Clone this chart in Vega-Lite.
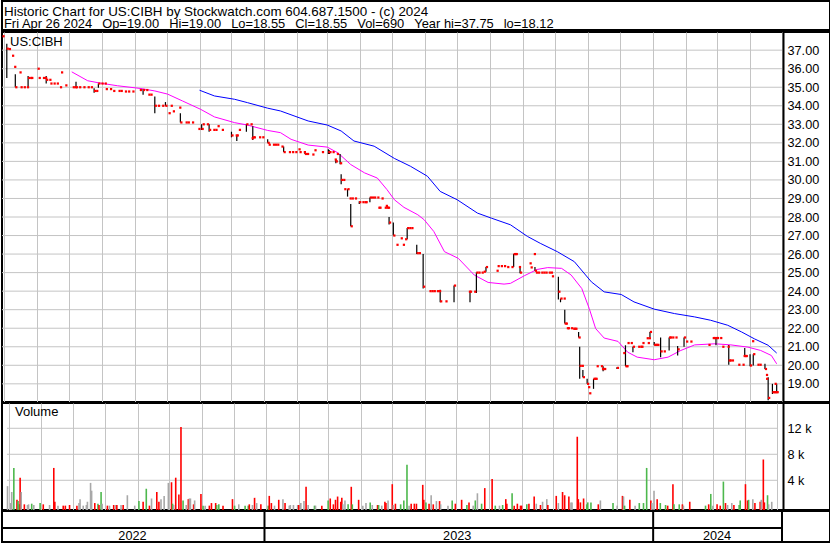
{
  "$schema": "https://vega.github.io/schema/vega-lite/v6.json",
  "padding": {"left": 0, "top": 0, "right": 0, "bottom": 0},
  "background": "white",
  "spacing": -2,
  "config": {
    "view": {"stroke": "black", "strokeWidth": 2},
    "font": "Liberation Sans",
    "text": {"font": "Liberation Sans"}
  },
  "datasets": {
    "pgrid": [{"g":19},{"g":20},{"g":21},{"g":22},{"g":23},{"g":24},{"g":25},{"g":26},{"g":27},{"g":28},{"g":29},{"g":30},{"g":31},{"g":32},{"g":33},{"g":34},{"g":35},{"g":36},{"g":37}],
    "vgrid": [{"g":4000},{"g":8000},{"g":12000}],
    "prices": [
      {"d":"2022-04-30","c":37.75},
      {"d":"2022-05-04","h":37.35,"l":35.5,"c":37.08},
      {"d":"2022-05-06","c":37.06},
      {"d":"2022-05-09","c":36.7},
      {"d":"2022-05-11","c":36.1},
      {"d":"2022-05-12","h":35.7,"l":35.0,"c":35.0},
      {"d":"2022-05-16","c":35.8},
      {"d":"2022-05-17","c":35.0},
      {"d":"2022-05-20","c":35.0},
      {"d":"2022-05-23","c":35.0},
      {"d":"2022-05-24","h":35.6,"l":35.0,"c":35.5},
      {"d":"2022-05-26","c":35.5},
      {"d":"2022-05-27","c":35.5},
      {"d":"2022-06-02","c":36.0},
      {"d":"2022-06-03","c":35.5},
      {"d":"2022-06-07","c":35.5},
      {"d":"2022-06-09","c":35.5},
      {"d":"2022-06-10","h":35.6,"l":35.2,"c":35.4},
      {"d":"2022-06-13","c":35.4},
      {"d":"2022-06-14","c":35.2},
      {"d":"2022-06-17","c":35.2},
      {"d":"2022-06-20","c":35.2},
      {"d":"2022-06-23","c":35.0},
      {"d":"2022-06-24","c":35.8},
      {"d":"2022-06-28","c":35.1},
      {"d":"2022-07-05","c":35.0},
      {"d":"2022-07-07","c":35.0},
      {"d":"2022-07-08","h":35.3,"l":35.0,"c":35.0},
      {"d":"2022-07-11","c":35.0},
      {"d":"2022-07-15","c":35.0},
      {"d":"2022-07-19","c":35.0},
      {"d":"2022-07-22","c":35.0},
      {"d":"2022-07-25","h":34.95,"l":34.7,"c":34.8},
      {"d":"2022-07-27","c":34.8},
      {"d":"2022-07-29","h":35.2,"l":34.97,"c":35.2},
      {"d":"2022-08-01","c":35.2},
      {"d":"2022-08-04","c":35.2},
      {"d":"2022-08-05","c":34.9},
      {"d":"2022-08-09","c":34.9},
      {"d":"2022-08-12","c":34.8},
      {"d":"2022-08-17","c":34.8},
      {"d":"2022-08-19","c":34.8},
      {"d":"2022-08-23","c":34.77},
      {"d":"2022-08-26","c":34.77},
      {"d":"2022-08-30","c":34.77},
      {"d":"2022-09-06","c":34.85},
      {"d":"2022-09-09","h":34.9,"l":34.6,"c":34.85},
      {"d":"2022-09-12","c":34.85},
      {"d":"2022-09-14","c":34.6},
      {"d":"2022-09-16","c":34.6},
      {"d":"2022-09-20","h":34.5,"l":33.6,"c":34.0},
      {"d":"2022-09-23","c":34.0},
      {"d":"2022-09-27","c":34.0},
      {"d":"2022-09-30","h":34.2,"l":34.0,"c":34.0},
      {"d":"2022-10-03","c":33.6},
      {"d":"2022-10-05","c":34.0},
      {"d":"2022-10-07","c":33.7},
      {"d":"2022-10-13","c":33.9},
      {"d":"2022-10-14","h":33.6,"l":33.1,"c":33.1},
      {"d":"2022-10-19","c":33.1},
      {"d":"2022-10-21","c":33.1},
      {"d":"2022-10-25","c":33.1},
      {"d":"2022-10-31","c":32.75},
      {"d":"2022-11-03","h":33.0,"l":32.7,"c":32.75},
      {"d":"2022-11-04","c":33.0},
      {"d":"2022-11-08","c":33.0},
      {"d":"2022-11-10","h":33.0,"l":32.6,"c":32.7},
      {"d":"2022-11-14","c":32.7},
      {"d":"2022-11-16","c":32.7},
      {"d":"2022-11-18","c":32.9},
      {"d":"2022-11-22","c":32.7},
      {"d":"2022-12-01","h":32.6,"l":32.3,"c":32.4},
      {"d":"2022-12-05","c":32.4},
      {"d":"2022-12-06","h":32.4,"l":32.1,"c":32.4},
      {"d":"2022-12-08","c":32.7},
      {"d":"2022-12-15","h":33.0,"l":32.6,"c":33.0},
      {"d":"2022-12-19","c":33.0},
      {"d":"2022-12-20","c":32.25},
      {"d":"2022-12-21","h":32.9,"l":32.15,"c":32.3},
      {"d":"2022-12-22","c":32.3},
      {"d":"2022-12-27","c":32.3},
      {"d":"2022-12-30","c":32.3},
      {"d":"2023-01-04","h":32.2,"l":32.0,"c":32.0},
      {"d":"2023-01-05","c":31.9},
      {"d":"2023-01-09","c":31.9},
      {"d":"2023-01-11","c":31.9},
      {"d":"2023-01-13","c":31.9},
      {"d":"2023-01-17","c":31.8},
      {"d":"2023-01-19","h":31.8,"l":31.5,"c":31.5},
      {"d":"2023-01-24","c":31.5},
      {"d":"2023-01-27","c":31.5},
      {"d":"2023-01-30","c":31.5},
      {"d":"2023-02-02","c":31.65},
      {"d":"2023-02-03","c":31.5},
      {"d":"2023-02-07","c":31.5},
      {"d":"2023-02-08","h":31.5,"l":31.4,"c":31.4},
      {"d":"2023-02-10","c":31.4},
      {"d":"2023-02-15","c":31.37},
      {"d":"2023-02-17","c":31.6},
      {"d":"2023-02-24","c":31.5},
      {"d":"2023-03-02","h":31.65,"l":31.4,"c":31.5},
      {"d":"2023-03-03","h":31.6,"l":31.4,"c":31.5},
      {"d":"2023-03-06","c":31.5},
      {"d":"2023-03-08","c":31.1},
      {"d":"2023-03-09","h":31.1,"l":30.9,"c":31.0},
      {"d":"2023-03-10","c":31.4},
      {"d":"2023-03-13","h":31.4,"l":30.85,"c":30.9},
      {"d":"2023-03-14","h":30.3,"l":29.76,"c":30.0},
      {"d":"2023-03-16","c":30.0},
      {"d":"2023-03-17","c":29.5},
      {"d":"2023-03-20","h":29.5,"l":29.1,"c":29.5},
      {"d":"2023-03-22","c":29.0},
      {"d":"2023-03-23","h":28.7,"l":27.5,"c":27.5},
      {"d":"2023-03-24","c":29.0},
      {"d":"2023-03-27","c":29.0},
      {"d":"2023-03-31","h":28.85,"l":28.7,"c":28.8},
      {"d":"2023-04-03","c":28.8},
      {"d":"2023-04-05","c":28.8},
      {"d":"2023-04-06","c":28.8},
      {"d":"2023-04-10","h":29.05,"l":28.8,"c":29.05},
      {"d":"2023-04-12","c":29.05},
      {"d":"2023-04-14","c":29.05},
      {"d":"2023-04-17","c":29.05},
      {"d":"2023-04-18","c":28.5},
      {"d":"2023-04-19","c":28.5},
      {"d":"2023-04-21","c":29.0},
      {"d":"2023-04-24","c":28.5},
      {"d":"2023-04-25","c":28.6},
      {"d":"2023-04-26","c":28.5},
      {"d":"2023-04-27","c":28.5},
      {"d":"2023-04-28","h":28.0,"l":27.6,"c":27.7},
      {"d":"2023-05-02","h":27.7,"l":27.0,"c":27.0},
      {"d":"2023-05-05","c":26.5},
      {"d":"2023-05-09","c":26.85},
      {"d":"2023-05-11","c":26.5},
      {"d":"2023-05-15","o":26.8,"h":27.4,"l":26.8,"c":27.4},
      {"d":"2023-05-17","c":27.4},
      {"d":"2023-05-19","c":27.4},
      {"d":"2023-05-24","h":26.5,"l":26.0,"c":26.05},
      {"d":"2023-05-26","c":26.05},
      {"d":"2023-05-30","h":26.0,"l":24.14,"c":24.24},
      {"d":"2023-06-05","c":24.0},
      {"d":"2023-06-07","c":24.0},
      {"d":"2023-06-09","c":24.0},
      {"d":"2023-06-12","c":24.0},
      {"d":"2023-06-14","c":24.0},
      {"d":"2023-06-15","h":24.07,"l":23.4,"c":23.45},
      {"d":"2023-06-20","c":23.45},
      {"d":"2023-06-28","h":24.3,"l":23.4,"c":24.3},
      {"d":"2023-07-12","c":23.97},
      {"d":"2023-07-13","h":23.97,"l":23.4,"c":23.97},
      {"d":"2023-07-17","c":23.97},
      {"d":"2023-07-19","h":25.0,"l":23.9,"c":25.0},
      {"d":"2023-07-21","c":25.0},
      {"d":"2023-07-24","c":25.0},
      {"d":"2023-07-26","c":25.05},
      {"d":"2023-07-28","h":25.3,"l":25.05,"c":25.3},
      {"d":"2023-08-07","c":25.1},
      {"d":"2023-08-08","c":25.35},
      {"d":"2023-08-11","c":25.35},
      {"d":"2023-08-14","c":25.35},
      {"d":"2023-08-17","c":25.3},
      {"d":"2023-08-21","c":25.3},
      {"d":"2023-08-23","h":26.0,"l":25.3,"c":26.0},
      {"d":"2023-08-24","c":26.0},
      {"d":"2023-08-25","c":26.0},
      {"d":"2023-08-28","c":25.3},
      {"d":"2023-08-29","h":25.28,"l":24.96,"c":25.0},
      {"d":"2023-09-07","c":25.5},
      {"d":"2023-09-08","c":25.28},
      {"d":"2023-09-11","c":26.0},
      {"d":"2023-09-12","h":25.3,"l":25.1,"c":25.1},
      {"d":"2023-09-13","c":25.0},
      {"d":"2023-09-15","c":25.0},
      {"d":"2023-09-18","c":25.0},
      {"d":"2023-09-20","c":25.0},
      {"d":"2023-09-22","c":25.0},
      {"d":"2023-09-25","c":25.0},
      {"d":"2023-09-27","c":25.0},
      {"d":"2023-09-28","c":24.8},
      {"d":"2023-10-04","h":24.78,"l":23.55,"c":23.97},
      {"d":"2023-10-06","h":23.6,"l":23.4,"c":23.6},
      {"d":"2023-10-09","c":23.6},
      {"d":"2023-10-10","h":23.0,"l":22.25,"c":22.25},
      {"d":"2023-10-11","c":22.25},
      {"d":"2023-10-12","c":22.0},
      {"d":"2023-10-13","c":22.0},
      {"d":"2023-10-16","c":22.0},
      {"d":"2023-10-18","c":21.97},
      {"d":"2023-10-19","c":21.97},
      {"d":"2023-10-20","c":21.97},
      {"d":"2023-10-23","h":21.8,"l":21.5,"c":21.5},
      {"d":"2023-10-24","h":21.0,"l":19.27,"c":19.97},
      {"d":"2023-10-26","c":19.97},
      {"d":"2023-10-27","h":19.74,"l":19.36,"c":19.36},
      {"d":"2023-10-31","h":19.27,"l":19.0,"c":19.0},
      {"d":"2023-11-01","c":18.82},
      {"d":"2023-11-02","c":18.49},
      {"d":"2023-11-06","h":19.27,"l":18.73,"c":19.27},
      {"d":"2023-11-07","c":19.27},
      {"d":"2023-11-08","c":19.27},
      {"d":"2023-11-09","c":19.95},
      {"d":"2023-11-13","c":19.95},
      {"d":"2023-11-14","c":19.8},
      {"d":"2023-11-15","h":19.95,"l":19.68,"c":19.8},
      {"d":"2023-11-16","c":19.8},
      {"d":"2023-11-28","h":19.9,"l":19.8,"c":19.86},
      {"d":"2023-12-04","c":20.66},
      {"d":"2023-12-06","h":21.08,"l":19.95,"c":19.95},
      {"d":"2023-12-07","c":19.95},
      {"d":"2023-12-08","c":21.2},
      {"d":"2023-12-11","c":21.2},
      {"d":"2023-12-13","h":21.0,"l":20.7,"c":21.0},
      {"d":"2023-12-18","c":21.0},
      {"d":"2023-12-20","c":21.0},
      {"d":"2023-12-21","c":21.0},
      {"d":"2023-12-22","c":21.2},
      {"d":"2023-12-26","c":21.46},
      {"d":"2023-12-27","c":21.2},
      {"d":"2023-12-28","c":21.46},
      {"d":"2023-12-29","h":21.8,"l":21.5,"c":21.8},
      {"d":"2024-01-02","h":21.26,"l":21.1,"c":21.1},
      {"d":"2024-01-03","c":21.1},
      {"d":"2024-01-04","c":21.1},
      {"d":"2024-01-05","c":21.1},
      {"d":"2024-01-08","h":21.5,"l":20.44,"c":20.75},
      {"d":"2024-01-11","c":20.75},
      {"d":"2024-01-16","h":21.5,"l":20.8,"c":21.5},
      {"d":"2024-01-17","c":21.5},
      {"d":"2024-01-19","c":21.5},
      {"d":"2024-01-22","c":21.5},
      {"d":"2024-01-24","h":21.04,"l":20.53,"c":20.86},
      {"d":"2024-01-30","h":21.5,"l":21.0,"c":21.5},
      {"d":"2024-02-01","c":21.28},
      {"d":"2024-02-05","c":21.28},
      {"d":"2024-02-22","c":21.1},
      {"d":"2024-02-26","c":21.47},
      {"d":"2024-02-27","c":21.47},
      {"d":"2024-02-29","h":21.5,"l":21.08,"c":21.47},
      {"d":"2024-03-01","c":21.47},
      {"d":"2024-03-04","c":21.47},
      {"d":"2024-03-06","c":21.0},
      {"d":"2024-03-11","c":21.0},
      {"d":"2024-03-12","h":21.1,"l":20.03,"c":20.26},
      {"d":"2024-03-13","c":20.26},
      {"d":"2024-03-15","c":20.26},
      {"d":"2024-03-21","c":20.03},
      {"d":"2024-03-25","c":20.03},
      {"d":"2024-03-26","c":20.5},
      {"d":"2024-03-27","h":20.93,"l":20.5,"c":20.5},
      {"d":"2024-03-28","c":20.5},
      {"d":"2024-04-01","h":20.6,"l":19.95,"c":19.99},
      {"d":"2024-04-03","c":21.3},
      {"d":"2024-04-04","h":20.6,"l":19.99,"c":20.6},
      {"d":"2024-04-08","c":20.03},
      {"d":"2024-04-10","c":20.03},
      {"d":"2024-04-15","h":20.08,"l":19.8,"c":19.8},
      {"d":"2024-04-16","c":19.48},
      {"d":"2024-04-18","o":19.27,"h":19.36,"l":18.12,"c":18.24},
      {"d":"2024-04-22","h":19.0,"l":18.45,"c":18.55},
      {"d":"2024-04-23","c":18.55},
      {"d":"2024-04-24","c":18.55},
      {"d":"2024-04-25","c":18.55},
      {"d":"2024-04-26","o":19.0,"h":19.0,"l":18.55,"c":18.55}
    ],
    "maPink": [
      {"d":"2022-07-04","m":35.83},{"d":"2022-07-19","m":35.35},{"d":"2022-07-31","m":35.22},{"d":"2022-08-16","m":35.08},
      {"d":"2022-09-07","m":34.93},{"d":"2022-09-20","m":34.8},{"d":"2022-10-02","m":34.63},{"d":"2022-10-16","m":34.26},
      {"d":"2022-11-02","m":33.81},{"d":"2022-11-15","m":33.4},{"d":"2022-12-04","m":33.09},{"d":"2022-12-16","m":32.96},
      {"d":"2023-01-04","m":32.67},{"d":"2023-01-16","m":32.55},{"d":"2023-01-26","m":32.19},{"d":"2023-02-11","m":31.88},
      {"d":"2023-03-01","m":31.77},{"d":"2023-03-11","m":31.46},{"d":"2023-03-23","m":30.83},{"d":"2023-04-05","m":30.38},
      {"d":"2023-04-17","m":30.1},{"d":"2023-04-26","m":29.48},{"d":"2023-05-03","m":28.93},{"d":"2023-05-12","m":28.52},
      {"d":"2023-05-25","m":28.12},{"d":"2023-05-31","m":27.85},{"d":"2023-06-09","m":27.22},{"d":"2023-06-19","m":26.13},
      {"d":"2023-07-02","m":25.77},{"d":"2023-07-17","m":24.87},{"d":"2023-07-30","m":24.47},{"d":"2023-08-14","m":24.38},
      {"d":"2023-08-20","m":24.42},{"d":"2023-09-02","m":24.83},{"d":"2023-09-14","m":25.17},{"d":"2023-09-24","m":25.27},
      {"d":"2023-10-07","m":25.23},{"d":"2023-10-16","m":24.87},{"d":"2023-10-26","m":24.14},{"d":"2023-11-02","m":23.06},
      {"d":"2023-11-08","m":21.98},{"d":"2023-11-16","m":21.47},{"d":"2023-11-29","m":21.29},{"d":"2023-12-08","m":20.71},
      {"d":"2023-12-17","m":20.44},{"d":"2024-01-02","m":20.3},{"d":"2024-01-15","m":20.44},{"d":"2024-01-27","m":20.8},
      {"d":"2024-02-09","m":21.1},{"d":"2024-02-28","m":21.16},{"d":"2024-03-14","m":21.1},{"d":"2024-03-30","m":20.98},
      {"d":"2024-04-11","m":20.8},{"d":"2024-04-21","m":20.53},{"d":"2024-04-26","m":20.08}
    ],
    "maBlue": [
      {"d":"2022-11-01","m":34.84},{"d":"2022-11-15","m":34.53},{"d":"2022-12-04","m":34.35},{"d":"2022-12-16","m":34.17},
      {"d":"2023-01-04","m":33.87},{"d":"2023-01-16","m":33.72},{"d":"2023-02-11","m":33.18},{"d":"2023-03-01","m":32.96},
      {"d":"2023-03-14","m":32.64},{"d":"2023-03-26","m":32.1},{"d":"2023-04-14","m":31.82},{"d":"2023-05-03","m":31.16},
      {"d":"2023-05-18","m":30.74},{"d":"2023-06-03","m":30.2},{"d":"2023-06-15","m":29.38},{"d":"2023-07-01","m":28.93},
      {"d":"2023-07-20","m":28.21},{"d":"2023-08-02","m":27.94},{"d":"2023-08-20","m":27.58},{"d":"2023-09-05","m":26.95},
      {"d":"2023-09-17","m":26.58},{"d":"2023-10-03","m":26.13},{"d":"2023-10-19","m":25.59},{"d":"2023-11-04","m":24.5},
      {"d":"2023-11-16","m":23.96},{"d":"2023-12-02","m":23.82},{"d":"2023-12-14","m":23.42},{"d":"2024-01-02","m":23.03},
      {"d":"2024-01-21","m":22.79},{"d":"2024-02-09","m":22.61},{"d":"2024-02-24","m":22.43},{"d":"2024-03-11","m":22.16},
      {"d":"2024-03-24","m":21.8},{"d":"2024-04-05","m":21.43},{"d":"2024-04-18","m":21.08},{"d":"2024-04-26","m":20.66}
    ],
    "volume": [
      {"d":"2022-04-30","v":3100,"k":"flat"},{"d":"2022-05-03","v":500,"k":"flat"},{"d":"2022-05-04","v":2200,"k":"flat"},
      {"d":"2022-05-06","v":5900,"k":"up"},{"d":"2022-05-09","v":1000,"k":"down"},{"d":"2022-05-10","v":800,"k":"up"},
      {"d":"2022-05-11","v":300,"k":"up"},{"d":"2022-05-12","v":4400,"k":"down"},{"d":"2022-05-13","v":2200,"k":"flat"},
      {"d":"2022-05-16","v":300,"k":"down"},{"d":"2022-05-19","v":200,"k":"flat"},{"d":"2022-05-20","v":300,"k":"flat"},
      {"d":"2022-05-23","v":400,"k":"up"},{"d":"2022-05-25","v":200,"k":"flat"},{"d":"2022-05-31","v":500,"k":"up"},
      {"d":"2022-06-03","v":300,"k":"down"},{"d":"2022-06-09","v":200,"k":"flat"},{"d":"2022-06-13","v":5900,"k":"down"},
      {"d":"2022-06-14","v":700,"k":"down"},{"d":"2022-06-17","v":100,"k":"flat"},{"d":"2022-06-22","v":100,"k":"down"},
      {"d":"2022-06-24","v":100,"k":"down"},{"d":"2022-06-28","v":200,"k":"down"},{"d":"2022-07-05","v":100,"k":"down"},
      {"d":"2022-07-07","v":500,"k":"flat"},{"d":"2022-07-08","v":1100,"k":"flat"},{"d":"2022-07-11","v":100,"k":"flat"},
      {"d":"2022-07-14","v":200,"k":"flat"},{"d":"2022-07-15","v":700,"k":"flat"},{"d":"2022-07-18","v":3600,"k":"flat"},
      {"d":"2022-07-19","v":2400,"k":"flat"},{"d":"2022-07-22","v":500,"k":"down"},{"d":"2022-07-25","v":400,"k":"up"},
      {"d":"2022-07-26","v":200,"k":"down"},{"d":"2022-07-28","v":2200,"k":"up"},{"d":"2022-07-29","v":400,"k":"flat"},
      {"d":"2022-08-03","v":100,"k":"down"},{"d":"2022-08-05","v":100,"k":"flat"},{"d":"2022-08-09","v":200,"k":"down"},
      {"d":"2022-08-11","v":200,"k":"flat"},{"d":"2022-08-12","v":200,"k":"down"},{"d":"2022-08-16","v":200,"k":"flat"},
      {"d":"2022-08-18","v":200,"k":"down"},{"d":"2022-08-22","v":1700,"k":"flat"},{"d":"2022-08-29","v":100,"k":"flat"},
      {"d":"2022-09-02","v":800,"k":"up"},{"d":"2022-09-06","v":700,"k":"down"},{"d":"2022-09-09","v":2700,"k":"up"},
      {"d":"2022-09-12","v":100,"k":"down"},{"d":"2022-09-14","v":1200,"k":"flat"},{"d":"2022-09-19","v":2200,"k":"down"},
      {"d":"2022-09-21","v":700,"k":"down"},{"d":"2022-09-23","v":1100,"k":"flat"},{"d":"2022-09-26","v":1600,"k":"flat"},
      {"d":"2022-09-30","v":3600,"k":"flat"},{"d":"2022-10-03","v":3700,"k":"down"},{"d":"2022-10-04","v":400,"k":"up"},
      {"d":"2022-10-05","v":200,"k":"flat"},{"d":"2022-10-07","v":4400,"k":"down"},{"d":"2022-10-10","v":1800,"k":"down"},
      {"d":"2022-10-12","v":12200,"k":"down"},{"d":"2022-10-14","v":900,"k":"up"},{"d":"2022-10-17","v":200,"k":"flat"},
      {"d":"2022-10-19","v":1100,"k":"down"},{"d":"2022-10-20","v":1200,"k":"flat"},{"d":"2022-10-21","v":1200,"k":"flat"},
      {"d":"2022-10-24","v":300,"k":"down"},{"d":"2022-10-25","v":900,"k":"flat"},{"d":"2022-10-31","v":1900,"k":"down"},
      {"d":"2022-11-02","v":100,"k":"up"},{"d":"2022-11-04","v":100,"k":"flat"},{"d":"2022-11-08","v":100,"k":"down"},
      {"d":"2022-11-10","v":500,"k":"down"},{"d":"2022-11-14","v":500,"k":"down"},{"d":"2022-11-15","v":200,"k":"up"},
      {"d":"2022-11-17","v":300,"k":"up"},{"d":"2022-11-21","v":100,"k":"down"},{"d":"2022-11-30","v":1100,"k":"down"},
      {"d":"2022-12-02","v":100,"k":"up"},{"d":"2022-12-06","v":300,"k":"flat"},{"d":"2022-12-12","v":100,"k":"up"},
      {"d":"2022-12-15","v":100,"k":"up"},{"d":"2022-12-16","v":300,"k":"down"},{"d":"2022-12-19","v":200,"k":"flat"},
      {"d":"2022-12-21","v":1300,"k":"down"},{"d":"2022-12-23","v":500,"k":"flat"},{"d":"2022-12-27","v":300,"k":"down"},
      {"d":"2023-01-03","v":100,"k":"up"},{"d":"2023-01-04","v":1600,"k":"down"},{"d":"2023-01-06","v":500,"k":"down"},
      {"d":"2023-01-09","v":100,"k":"flat"},{"d":"2023-01-13","v":1000,"k":"down"},{"d":"2023-01-17","v":1100,"k":"flat"},
      {"d":"2023-01-19","v":500,"k":"down"},{"d":"2023-01-23","v":100,"k":"flat"},{"d":"2023-01-24","v":200,"k":"flat"},
      {"d":"2023-01-27","v":200,"k":"flat"},{"d":"2023-01-31","v":200,"k":"flat"},{"d":"2023-02-01","v":200,"k":"down"},
      {"d":"2023-02-03","v":500,"k":"flat"},{"d":"2023-02-06","v":800,"k":"flat"},{"d":"2023-02-08","v":3000,"k":"down"},
      {"d":"2023-02-10","v":200,"k":"flat"},{"d":"2023-02-16","v":100,"k":"up"},{"d":"2023-02-17","v":100,"k":"flat"},
      {"d":"2023-02-23","v":100,"k":"down"},{"d":"2023-03-01","v":900,"k":"up"},{"d":"2023-03-03","v":1200,"k":"down"},
      {"d":"2023-03-06","v":300,"k":"down"},{"d":"2023-03-08","v":1000,"k":"down"},{"d":"2023-03-10","v":1500,"k":"down"},
      {"d":"2023-03-13","v":700,"k":"down"},{"d":"2023-03-14","v":1300,"k":"down"},{"d":"2023-03-15","v":300,"k":"flat"},
      {"d":"2023-03-17","v":900,"k":"flat"},{"d":"2023-03-20","v":300,"k":"up"},{"d":"2023-03-23","v":3000,"k":"down"},
      {"d":"2023-03-24","v":300,"k":"up"},{"d":"2023-03-30","v":1000,"k":"down"},{"d":"2023-04-03","v":100,"k":"flat"},
      {"d":"2023-04-06","v":500,"k":"flat"},{"d":"2023-04-10","v":600,"k":"up"},{"d":"2023-04-12","v":200,"k":"flat"},
      {"d":"2023-04-17","v":200,"k":"down"},{"d":"2023-04-18","v":200,"k":"up"},{"d":"2023-04-21","v":100,"k":"flat"},
      {"d":"2023-04-24","v":700,"k":"down"},{"d":"2023-04-25","v":500,"k":"down"},{"d":"2023-04-27","v":900,"k":"flat"},
      {"d":"2023-05-01","v":3400,"k":"down"},{"d":"2023-05-02","v":200,"k":"flat"},{"d":"2023-05-04","v":400,"k":"down"},
      {"d":"2023-05-09","v":300,"k":"up"},{"d":"2023-05-12","v":900,"k":"up"},{"d":"2023-05-15","v":6400,"k":"up"},
      {"d":"2023-05-17","v":100,"k":"flat"},{"d":"2023-05-19","v":400,"k":"down"},{"d":"2023-05-22","v":400,"k":"down"},
      {"d":"2023-05-24","v":400,"k":"down"},{"d":"2023-05-30","v":3300,"k":"down"},{"d":"2023-05-31","v":1000,"k":"down"},
      {"d":"2023-06-02","v":600,"k":"up"},{"d":"2023-06-05","v":400,"k":"down"},{"d":"2023-06-07","v":1700,"k":"flat"},
      {"d":"2023-06-09","v":300,"k":"down"},{"d":"2023-06-12","v":800,"k":"flat"},{"d":"2023-06-15","v":800,"k":"down"},
      {"d":"2023-06-16","v":300,"k":"flat"},{"d":"2023-06-23","v":100,"k":"flat"},{"d":"2023-06-27","v":900,"k":"up"},
      {"d":"2023-06-30","v":400,"k":"down"},{"d":"2023-07-06","v":1000,"k":"down"},{"d":"2023-07-11","v":200,"k":"up"},
      {"d":"2023-07-13","v":600,"k":"down"},{"d":"2023-07-17","v":100,"k":"flat"},{"d":"2023-07-19","v":900,"k":"up"},
      {"d":"2023-07-21","v":2000,"k":"flat"},{"d":"2023-07-25","v":400,"k":"up"},{"d":"2023-07-28","v":2800,"k":"down"},
      {"d":"2023-08-04","v":4200,"k":"down"},{"d":"2023-08-07","v":100,"k":"up"},{"d":"2023-08-11","v":100,"k":"flat"},
      {"d":"2023-08-14","v":200,"k":"up"},{"d":"2023-08-17","v":1100,"k":"down"},{"d":"2023-08-18","v":400,"k":"down"},
      {"d":"2023-08-23","v":2000,"k":"up"},{"d":"2023-08-25","v":100,"k":"down"},{"d":"2023-08-28","v":400,"k":"down"},
      {"d":"2023-08-31","v":100,"k":"down"},{"d":"2023-09-01","v":100,"k":"down"},{"d":"2023-09-06","v":300,"k":"up"},
      {"d":"2023-09-08","v":400,"k":"down"},{"d":"2023-09-13","v":1500,"k":"down"},{"d":"2023-09-15","v":400,"k":"flat"},
      {"d":"2023-09-19","v":200,"k":"down"},{"d":"2023-09-21","v":700,"k":"flat"},{"d":"2023-09-25","v":1100,"k":"flat"},
      {"d":"2023-09-26","v":200,"k":"down"},{"d":"2023-10-04","v":1600,"k":"down"},{"d":"2023-10-06","v":500,"k":"flat"},
      {"d":"2023-10-10","v":2200,"k":"down"},{"d":"2023-10-12","v":1700,"k":"down"},{"d":"2023-10-16","v":1500,"k":"down"},
      {"d":"2023-10-18","v":600,"k":"flat"},{"d":"2023-10-19","v":600,"k":"flat"},{"d":"2023-10-24","v":10700,"k":"down"},
      {"d":"2023-10-25","v":1100,"k":"down"},{"d":"2023-10-27","v":600,"k":"down"},{"d":"2023-10-30","v":1200,"k":"down"},
      {"d":"2023-11-02","v":300,"k":"up"},{"d":"2023-11-03","v":600,"k":"up"},{"d":"2023-11-06","v":600,"k":"up"},
      {"d":"2023-11-13","v":300,"k":"down"},{"d":"2023-11-15","v":900,"k":"flat"},{"d":"2023-11-27","v":500,"k":"up"},
      {"d":"2023-12-01","v":100,"k":"flat"},{"d":"2023-12-06","v":1600,"k":"down"},{"d":"2023-12-07","v":1500,"k":"flat"},
      {"d":"2023-12-08","v":100,"k":"up"},{"d":"2023-12-13","v":1000,"k":"down"},{"d":"2023-12-18","v":100,"k":"flat"},
      {"d":"2023-12-22","v":500,"k":"up"},{"d":"2023-12-26","v":500,"k":"up"},{"d":"2023-12-29","v":5900,"k":"up"},
      {"d":"2024-01-02","v":900,"k":"down"},{"d":"2024-01-03","v":500,"k":"flat"},{"d":"2024-01-05","v":2400,"k":"flat"},
      {"d":"2024-01-08","v":1100,"k":"down"},{"d":"2024-01-11","v":500,"k":"up"},{"d":"2024-01-16","v":200,"k":"up"},
      {"d":"2024-01-18","v":100,"k":"down"},{"d":"2024-01-23","v":3400,"k":"down"},{"d":"2024-01-24","v":300,"k":"up"},
      {"d":"2024-01-29","v":300,"k":"up"},{"d":"2024-02-01","v":300,"k":"down"},{"d":"2024-02-02","v":100,"k":"flat"},
      {"d":"2024-02-08","v":700,"k":"down"},{"d":"2024-02-23","v":100,"k":"up"},{"d":"2024-02-26","v":300,"k":"down"},
      {"d":"2024-02-28","v":1900,"k":"up"},{"d":"2024-03-01","v":100,"k":"flat"},{"d":"2024-03-05","v":300,"k":"down"},
      {"d":"2024-03-08","v":100,"k":"down"},{"d":"2024-03-11","v":3800,"k":"up"},{"d":"2024-03-13","v":500,"k":"down"},
      {"d":"2024-03-15","v":200,"k":"flat"},{"d":"2024-03-19","v":500,"k":"flat"},{"d":"2024-03-21","v":200,"k":"down"},
      {"d":"2024-03-26","v":200,"k":"up"},{"d":"2024-03-27","v":900,"k":"up"},{"d":"2024-04-01","v":3400,"k":"down"},
      {"d":"2024-04-03","v":900,"k":"down"},{"d":"2024-04-04","v":1000,"k":"up"},{"d":"2024-04-08","v":1100,"k":"flat"},
      {"d":"2024-04-10","v":500,"k":"down"},{"d":"2024-04-15","v":700,"k":"down"},{"d":"2024-04-16","v":1000,"k":"flat"},
      {"d":"2024-04-18","v":7200,"k":"down"},{"d":"2024-04-19","v":600,"k":"down"},{"d":"2024-04-22","v":1700,"k":"up"},
      {"d":"2024-04-23","v":300,"k":"flat"},{"d":"2024-04-26","v":690,"k":"flat"}
    ],
    "yearLines": [{"d":"2023-01-01"},{"d":"2024-01-01"},{"d":"2024-05-01"}],
    "yearLabels": [{"d":"2022-08-30","t":"2022"},{"d":"2023-07-01","t":"2023"},{"d":"2024-03-01","t":"2024"}]
  },
  "vconcat": [
    {
      "width": 828,
      "height": 29,
      "layer": [
        {
          "data": {"values": [{"row": 1, "t": "Historic Chart for US:CIBH by Stockwatch.com 604.687.1500 - (c) 2024"}]},
          "mark": {"type": "text", "align": "left", "baseline": "alphabetic", "fontSize": 13.4, "color": "black", "dx": 2},
          "encoding": {
            "x": {"datum": 0, "type": "quantitative", "scale": {"domain": [0, 100]}, "axis": null},
            "y": {"field": "row", "type": "quantitative", "scale": {"domain": [-0.08, 2.15], "reverse": true}, "axis": null},
            "text": {"field": "t"}
          }
        },
        {
          "data": {"values": [{"row": 2, "t": "Fri Apr 26 2024\u2002\u00a0Op=19.00\u2002\u00a0Hi=19.00\u2002\u00a0Lo=18.55\u2002\u00a0Cl=18.55\u2002\u00a0Vol=690\u2002\u00a0Year hi=37.75\u2002\u00a0lo=18.12"}]},
          "mark": {"type": "text", "align": "left", "baseline": "alphabetic", "fontSize": 12.9, "color": "black", "dx": 2},
          "encoding": {
            "x": {"datum": 0, "type": "quantitative", "axis": null},
            "y": {"field": "row", "type": "quantitative", "axis": null},
            "text": {"field": "t"}
          }
        }
      ]
    },
    {
      "width": 828,
      "height": 370,
      "resolve": {"axis": {"x": "independent", "y": "independent"}},
      "layer": [
        {
          "data": {"name": "pgrid"},
          "mark": {"type": "rule", "color": "#c4c4c4", "strokeWidth": 1},
          "encoding": {
            "x": {"datum": {"year":2022,"month":4,"date":29,"hours":12,"utc":true}, "type": "temporal", "scale": {"type": "utc", "domain": [{"year":2022,"month":4,"date":29,"hours":12,"utc":true},{"year":2024,"month":5,"date":1,"utc":true}], "range": [0, 780]}, "axis": null},
            "x2": {"datum": {"year":2024,"month":5,"date":1,"utc":true}},
            "y": {"field": "g", "type": "quantitative", "scale": {"domain": [18.02, 37.98], "nice": false, "zero": false}, "axis": null}
          }
        },
        {
          "data": {"name": "maPink"},
          "mark": {"type": "line", "color": "#ff00ff", "strokeWidth": 1},
          "encoding": {
            "x": {"field": "d", "type": "temporal", "axis": null},
            "y": {"field": "m", "type": "quantitative", "axis": null}
          }
        },
        {
          "data": {"name": "maBlue"},
          "mark": {"type": "line", "color": "#0000ff", "strokeWidth": 1},
          "encoding": {
            "x": {"field": "d", "type": "temporal", "axis": null},
            "y": {"field": "m", "type": "quantitative", "axis": null}
          }
        },
        {
          "data": {"name": "prices"},
          "mark": {"type": "rule", "color": "black", "strokeWidth": 1.2},
          "encoding": {
            "x": {"field": "d", "type": "temporal", "axis": null},
            "y": {"field": "l", "type": "quantitative", "axis": null},
            "y2": {"field": "h"}
          }
        },
        {
          "data": {"name": "prices"},
          "mark": {"type": "square", "color": "#ff0000", "filled": true, "opacity": 1, "size": 5, "xOffset": -1},
          "encoding": {
            "x": {"field": "d", "type": "temporal", "axis": null},
            "y": {"field": "o", "type": "quantitative", "axis": null}
          }
        },
        {
          "data": {"name": "prices"},
          "mark": {"type": "square", "color": "#ff0000", "filled": true, "opacity": 1, "size": 5, "xOffset": 1},
          "encoding": {
            "x": {"field": "d", "type": "temporal",
              "axis": {"grid": true, "gridColor": "#c4c4c4", "labels": false, "ticks": false, "domain": false, "title": null, "tickCount": {"interval": "month", "step": 1}, "minExtent": 0, "maxExtent": 0, "labelPadding": 0, "tickSize": 0, "offset": 0}},
            "y": {"field": "c", "type": "quantitative",
              "axis": {"orient": "right", "offset": -47, "values": [19,20,21,22,23,24,25,26,27,28,29,30,31,32,33,34,35,36,37], "format": ".2f", "grid": false, "ticks": false, "domain": true, "domainColor": "black", "domainWidth": 2, "labelFontSize": 12.7, "labelColor": "black", "labelPadding": 4, "labelFont": "Liberation Sans", "title": null, "labelFlush": false, "labelOverlap": false, "minExtent": 0, "maxExtent": 0}}
          }
        },
        {
          "data": {"values": [{"t": "US:CIBH", "d": "2022-04-29T12:00:00Z", "p": 37.24}]},
          "mark": {"type": "text", "align": "left", "baseline": "alphabetic", "fontSize": 13, "color": "black", "dx": 8},
          "encoding": {
            "x": {"field": "d", "type": "temporal", "axis": null},
            "y": {"field": "p", "type": "quantitative", "axis": null},
            "text": {"field": "t"}
          }
        }
      ]
    },
    {
      "width": 828,
      "height": 107,
      "resolve": {"axis": {"x": "independent", "y": "independent"}},
      "layer": [
        {
          "data": {"name": "vgrid"},
          "mark": {"type": "rule", "color": "#c4c4c4", "strokeWidth": 1},
          "encoding": {
            "x": {"datum": {"year":2022,"month":4,"date":29,"hours":12,"utc":true}, "type": "temporal", "scale": {"type": "utc", "domain": [{"year":2022,"month":4,"date":29,"hours":12,"utc":true},{"year":2024,"month":5,"date":1,"utc":true}], "range": [0, 780]}, "axis": null},
            "x2": {"datum": {"year":2024,"month":5,"date":1,"utc":true}},
            "y": {"field": "g", "type": "quantitative", "scale": {"domain": [-570, 15890], "nice": false, "zero": false}, "axis": null}
          }
        },
        {
          "data": {"name": "volume"},
          "mark": {"type": "bar", "width": 1.6},
          "encoding": {
            "x": {"field": "d", "type": "temporal",
              "axis": {"grid": true, "gridColor": "#c4c4c4", "labels": false, "ticks": false, "domain": false, "title": null, "tickCount": {"interval": "month", "step": 1}, "minExtent": 0, "maxExtent": 0, "labelPadding": 0, "tickSize": 0, "offset": 0}},
            "y": {"field": "v", "type": "quantitative",
              "axis": {"orient": "right", "offset": -47, "values": [4000, 8000, 12000], "labelExpr": "(datum.value/1000) + ' k'", "grid": false, "ticks": false, "domain": true, "domainColor": "black", "domainWidth": 2, "labelFontSize": 12.7, "labelColor": "black", "labelPadding": 4, "labelFont": "Liberation Sans", "title": null, "labelFlush": false, "labelOverlap": false, "minExtent": 0, "maxExtent": 0}},
            "y2": {"datum": -570},
            "color": {"field": "k", "type": "nominal", "scale": {"domain": ["up", "down", "flat"], "range": ["#4db84d", "#ff0000", "#a8a8a8"]}, "legend": null}
          }
        },
        {
          "data": {"values": [{"t": "Volume", "d": "2022-04-29T12:00:00Z", "v": 13900}]},
          "mark": {"type": "text", "align": "left", "baseline": "alphabetic", "fontSize": 13, "color": "black", "dx": 8},
          "encoding": {
            "x": {"field": "d", "type": "temporal", "axis": null},
            "y": {"field": "v", "type": "quantitative", "axis": null},
            "text": {"field": "t"}
          }
        }
      ]
    },
    {
      "width": 828,
      "height": 31,
      "layer": [
        {
          "data": {"name": "yearLines"},
          "mark": {"type": "rule", "color": "black", "strokeWidth": 2},
          "encoding": {
            "x": {"field": "d", "type": "temporal", "scale": {"type": "utc", "domain": [{"year":2022,"month":4,"date":29,"hours":12,"utc":true},{"year":2024,"month":5,"date":1,"utc":true}], "range": [0, 780]}, "axis": null}
          }
        },
        {
          "data": {"values": [{"m": 0.9}]},
          "mark": {"type": "rule", "color": "black", "strokeWidth": 2},
          "encoding": {
            "x": {"datum": {"year":2022,"month":4,"date":29,"hours":12,"utc":true}, "type": "temporal", "axis": null},
            "x2": {"datum": {"year":2024,"month":5,"date":1,"utc":true}},
            "y": {"field": "m", "type": "quantitative", "scale": {"domain": [0, 2], "nice": false, "zero": false}, "axis": null}
          }
        },
        {
          "data": {"name": "yearLabels"},
          "mark": {"type": "text", "align": "center", "baseline": "middle", "fontSize": 12.7, "color": "black"},
          "encoding": {
            "x": {"field": "d", "type": "temporal", "axis": null},
            "y": {"datum": 0.4, "type": "quantitative", "axis": null},
            "text": {"field": "t"}
          }
        }
      ]
    }
  ]
}
